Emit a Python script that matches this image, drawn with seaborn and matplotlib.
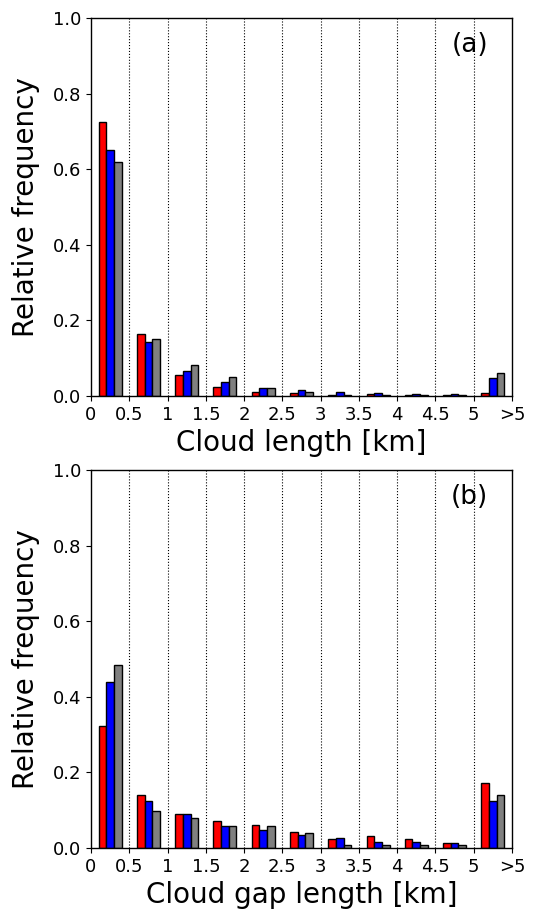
import numpy as np
import pandas as pd
import seaborn as sns
import matplotlib.pyplot as plt

# bin centres (km) and tick labels
bin_centres = [0.25, 0.75, 1.25, 1.75, 2.25, 2.75, 3.25, 3.75, 4.25, 4.75, 5.25]
tick_pos = [0, 0.5, 1, 1.5, 2, 2.5, 3, 3.5, 4, 4.5, 5, 5.5]
tick_labels = ['0', '0.5', '1', '1.5', '2', '2.5', '3', '3.5', '4', '4.5', '5', '>5']
series = ['red', 'blue', 'gray']

# (a) cloud length
cloud_red = [0.724, 0.163, 0.056, 0.025, 0.010, 0.007, 0.002, 0.005, 0.002, 0.002, 0.008]
cloud_blue = [0.650, 0.142, 0.065, 0.036, 0.021, 0.015, 0.010, 0.008, 0.004, 0.004, 0.047]
cloud_gray = [0.619, 0.151, 0.081, 0.050, 0.021, 0.010, 0.003, 0.002, 0.002, 0.002, 0.060]

# (b) cloud gap length
gap_red = [0.323, 0.139, 0.091, 0.072, 0.061, 0.043, 0.024, 0.032, 0.024, 0.013, 0.173]
gap_blue = [0.440, 0.125, 0.091, 0.057, 0.048, 0.035, 0.027, 0.017, 0.017, 0.013, 0.125]
gap_gray = [0.483, 0.099, 0.080, 0.059, 0.059, 0.040, 0.008, 0.008, 0.008, 0.008, 0.139]


def make_df(r, b, g):
    rows = []
    for name, vals in zip(series, [r, b, g]):
        for x, v in zip(bin_centres, vals):
            rows.append({'x': x, 'freq': v, 'case': name})
    return pd.DataFrame(rows)


sns.set_style('ticks')
plt.rcParams['font.family'] = ['DejaVu Sans']
plt.rcParams.update({'text.color': 'black', 'axes.labelcolor': 'black',
                     'xtick.color': 'black', 'ytick.color': 'black',
                     'axes.edgecolor': 'black'})

fig = plt.figure(figsize=(5.36, 9.23), dpi=100)
ax1 = fig.add_axes([91 / 536, 1 - 396 / 923, 421 / 536, 378 / 923])
ax2 = fig.add_axes([91 / 536, 1 - 848 / 923, 421 / 536, 378 / 923])

panels = [
    (ax1, make_df(cloud_red, cloud_blue, cloud_gray), 'Cloud length [km]', '(a)'),
    (ax2, make_df(gap_red, gap_blue, gap_gray), 'Cloud gap length [km]', '(b)'),
]

for ax, df, xlabel, tag in panels:
    sns.barplot(data=df, x='x', y='freq', hue='case', hue_order=series,
                palette=['red', 'blue', 'gray'], native_scale=True, width=0.6,
                edgecolor='black', linewidth=1, saturation=1, legend=False,
                errorbar=None, ax=ax)
    for xv in tick_pos[1:-1]:
        ax.axvline(xv, color='black', linestyle=':', linewidth=0.8, zorder=0)
    ax.set_xlim(0, 5.5)
    ax.set_ylim(0, 1.0)
    ax.set_xticks(tick_pos)
    ax.set_xticklabels(tick_labels)
    ax.set_yticks([0, 0.2, 0.4, 0.6, 0.8, 1.0])
    ax.tick_params(labelsize=13, colors='black')
    ax.set_xlabel(xlabel, fontsize=20)
    ax.set_ylabel('Relative frequency', fontsize=20, labelpad=9)
    ax.text(0.943, 0.928, tag, transform=ax.transAxes, fontsize=19,
            ha='right', va='center')
    for s in ax.spines.values():
        s.set_visible(True)
        s.set_linewidth(1)
        s.set_color('black')

fig.savefig('out.png', dpi=100)
